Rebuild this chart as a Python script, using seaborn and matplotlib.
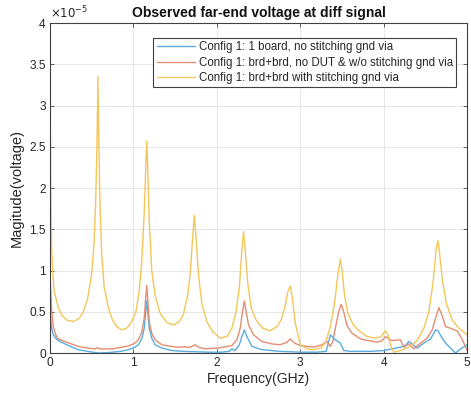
import numpy as np
import pandas as pd
import seaborn as sns
from matplotlib import pyplot as plt

# values (magnitude in units of 1e-5 V)
freq_blue = [0.0, 0.01, 0.02, 0.04, 0.07, 0.1, 0.2, 0.34, 0.45, 0.58, 0.7, 0.85, 0.94, 1.02, 1.06,
             1.1, 1.13, 1.15, 1.16, 1.17, 1.19, 1.22, 1.26, 1.34, 1.46, 1.6, 1.74, 1.9, 2.05, 2.15,
             2.18, 2.22, 2.27, 2.3, 2.33, 2.36, 2.42, 2.54, 2.76, 3.0, 3.2, 3.31, 3.33, 3.36, 3.42,
             3.48, 3.52, 3.6, 3.72, 3.85, 4.0, 4.1, 4.2, 4.26, 4.3, 4.35, 4.4, 4.48, 4.56, 4.6, 4.62,
             4.65, 4.7, 4.75, 4.8, 4.86, 4.92, 4.97, 5.0]
mag_blue = [0.55, 0.4, 0.3, 0.22, 0.18, 0.15, 0.1, 0.04, 0.02, 0.0, 0.005, 0.02, 0.04, 0.07, 0.1,
            0.17, 0.3, 0.52, 0.63, 0.52, 0.3, 0.18, 0.1, 0.06, 0.03, 0.02, 0.015, 0.01, 0.01, 0.02,
            0.05, 0.03, 0.1, 0.2, 0.28, 0.2, 0.08, 0.04, 0.02, 0.01, 0.01, 0.02, 0.1, 0.22, 0.16,
            0.12, 0.03, 0.02, 0.02, 0.02, 0.03, 0.05, 0.07, 0.09, 0.14, 0.1, 0.06, 0.12, 0.17, 0.24, 0.28,
            0.27, 0.18, 0.11, 0.06, 0.0, 0.05, 0.08, 0.1]

freq_red = [0.0, 0.01, 0.02, 0.04, 0.07, 0.1, 0.2, 0.34, 0.45, 0.54, 0.57, 0.6, 0.75, 0.94, 1.02,
            1.06, 1.1, 1.13, 1.15, 1.16, 1.17, 1.19, 1.22, 1.26, 1.34, 1.45, 1.54, 1.62, 1.66, 1.7,
            1.74, 1.78, 1.86, 2.02, 2.18, 2.24, 2.28, 2.31, 2.33, 2.35, 2.38, 2.44, 2.54, 2.66, 2.76,
            2.84, 2.88, 2.93, 3.0, 3.16, 3.26, 3.32, 3.36, 3.39, 3.42, 3.46, 3.49, 3.52, 3.56, 3.62,
            3.72, 3.82, 3.92, 3.98, 4.02, 4.06, 4.1, 4.2, 4.24, 4.3, 4.36, 4.44, 4.52, 4.58, 4.62,
            4.66, 4.7, 4.74, 4.8, 4.84, 4.88, 4.92, 4.96, 5.0]
mag_red = [1.0, 0.75, 0.52, 0.32, 0.22, 0.17, 0.13, 0.08, 0.06, 0.05, 0.065, 0.05, 0.05, 0.085, 0.12,
           0.16, 0.25, 0.42, 0.7, 0.82, 0.68, 0.38, 0.24, 0.16, 0.1, 0.08, 0.07, 0.075, 0.065, 0.08,
           0.1, 0.07, 0.05, 0.06, 0.09, 0.16, 0.3, 0.52, 0.63, 0.5, 0.34, 0.22, 0.14, 0.11, 0.1,
           0.13, 0.17, 0.12, 0.09, 0.07, 0.1, 0.14, 0.08, 0.14, 0.3, 0.5, 0.59, 0.5, 0.33, 0.24,
           0.17, 0.15, 0.13, 0.15, 0.2, 0.17, 0.15, 0.16, 0.07, 0.11, 0.05, 0.12, 0.18, 0.28, 0.42,
           0.55, 0.45, 0.32, 0.3, 0.28, 0.27, 0.2, 0.12, 0.03]

freq_yel = [0.0, 0.005, 0.01, 0.02, 0.035, 0.05, 0.1, 0.15, 0.2, 0.28, 0.35, 0.4, 0.45, 0.5, 0.53,
            0.55, 0.565, 0.575, 0.585, 0.6, 0.62, 0.65, 0.7, 0.75, 0.8, 0.86, 0.92, 0.98, 1.03, 1.07,
            1.1, 1.13, 1.15, 1.16, 1.17, 1.19, 1.22, 1.26, 1.32, 1.4, 1.48, 1.55, 1.6, 1.65, 1.68,
            1.71, 1.73, 1.75, 1.78, 1.82, 1.88, 1.95, 2.04, 2.12, 2.18, 2.23, 2.27, 2.3, 2.32, 2.34,
            2.37, 2.41, 2.47, 2.55, 2.64, 2.72, 2.77, 2.82, 2.85, 2.88, 2.9, 2.94, 3.0, 3.08, 3.16,
            3.24, 3.3, 3.36, 3.41, 3.45, 3.48, 3.5, 3.53, 3.57, 3.63, 3.7, 3.8, 3.9, 3.97, 4.02,
            4.05, 4.08, 4.12, 4.2, 4.3, 4.4, 4.48, 4.54, 4.59, 4.63, 4.65, 4.67, 4.7, 4.75, 4.82,
            4.9, 5.0]
mag_yel = [3.7, 2.8, 2.0, 1.3, 0.95, 0.75, 0.55, 0.45, 0.4, 0.38, 0.42, 0.5, 0.65, 0.95, 1.35,
           1.9, 2.6, 3.35, 2.6, 1.8, 1.2, 0.8, 0.55, 0.4, 0.32, 0.28, 0.3, 0.38, 0.5, 0.75,
           1.1, 1.7, 2.3, 2.57, 2.3, 1.6, 1.0, 0.7, 0.48, 0.37, 0.34, 0.38, 0.47, 0.7, 0.95,
           1.4, 1.67, 1.4, 0.95, 0.6, 0.38, 0.26, 0.18, 0.2, 0.3, 0.5, 0.8, 1.25, 1.47, 1.25,
           0.85, 0.55, 0.4, 0.3, 0.27, 0.32, 0.4, 0.58, 0.74, 0.81, 0.7, 0.36, 0.1, 0.05, 0.04,
           0.06, 0.12, 0.32, 0.6, 0.95, 1.14, 1.0, 0.7, 0.48, 0.35, 0.27, 0.2, 0.18, 0.2, 0.27,
           0.22, 0.1, 0.01, 0.03, 0.07, 0.15, 0.3, 0.5, 0.85, 1.28, 1.36, 1.2, 0.9, 0.6, 0.4,
           0.3, 0.22]

labels = ["Config 1: 1 board, no stitching gnd via",
          "Config 1: brd+brd, no DUT & w/o stitching gnd via",
          "Config 1: brd+brd with stitching gnd via"]
colors = ["#5aaddf", "#e58d72", "#f3c659"]

sns.set_theme(style="whitegrid")
plt.rcParams['font.family'] = ['Liberation Sans', 'DejaVu Sans']

fig = plt.figure(figsize=(4.71, 4.0), dpi=100)
ax = fig.add_axes([0.106, 0.1175, 0.886, 0.825])

series = [(freq_blue, mag_blue), (freq_red, mag_red), (freq_yel, mag_yel)]
for (f, m), lab, c in zip(series, labels, colors):
    df = pd.DataFrame({"freq": f, "mag": m})
    sns.lineplot(x="freq", y="mag", data=df, ax=ax, color=c, linewidth=1.0,
                 label=lab, estimator=None, sort=False)

ax.set_xlim(0, 5)
ax.set_ylim(0, 4)
ax.set_xticks(np.arange(0, 6, 1))
ax.set_yticks(np.arange(0, 4.5, 0.5))
ax.set_yticklabels(["0", "0.5", "1", "1.5", "2", "2.5", "3", "3.5", "4"])
ax.grid(True, color="#e3e3e3", linewidth=0.6)
for s in ax.spines.values():
    s.set_color("#404040")
    s.set_linewidth(0.8)
ax.tick_params(direction="in", length=3, width=0.6, colors="#404040",
               labelcolor="#262626", labelsize=8.6, top=True, right=True,
               bottom=True, left=True, pad=3)

ax.set_xlabel("Frequency(GHz)", fontsize=10, color="#262626", labelpad=2)
ax.set_ylabel("Magitude(voltage)", fontsize=10.5, color="#262626", labelpad=4)
ax.set_title("Observed far-end voltage at diff signal", fontsize=10,
             fontweight="bold", color="#111111", pad=4)
ax.text(0.0, 1.005, r"$\times10^{-5}$", transform=ax.transAxes, fontsize=8.5,
        color="#262626", ha="left", va="bottom")

leg = ax.legend(loc="upper right", bbox_to_anchor=(0.974, 0.955), borderaxespad=0,
                fontsize=8.3, handlelength=3.3, labelspacing=0.28, handletextpad=0.35,
                fancybox=False, framealpha=1, edgecolor="#404040", borderpad=0.3)
leg.get_frame().set_linewidth(0.8)

fig.savefig("out.png", dpi=100)
